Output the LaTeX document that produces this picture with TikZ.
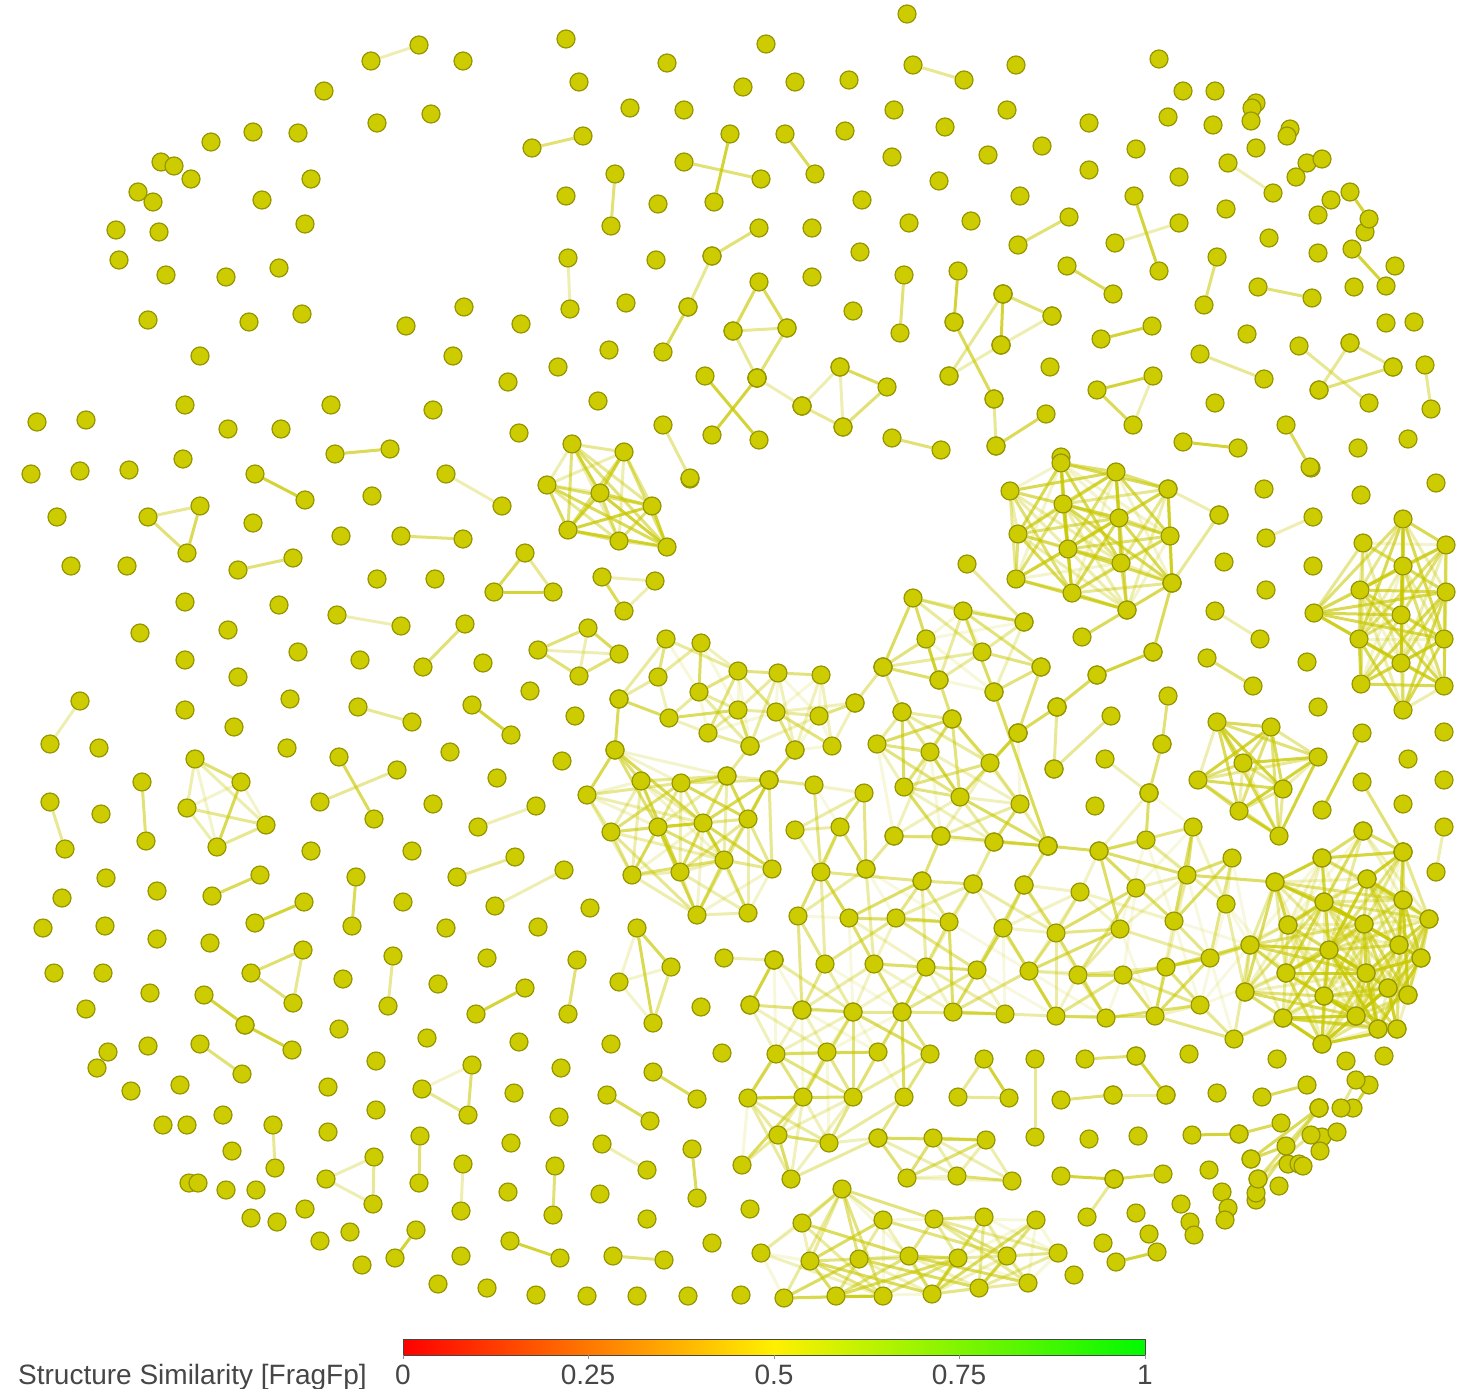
\documentclass[tikz,border=0pt]{standalone}
\usepackage{fontspec}
\setmainfont{Liberation Sans}
\pgfdeclarelayer{edges}
\pgfsetlayers{edges,main}
\definecolor{nodefill}{RGB}{204,204,0}
\definecolor{nodeline}{RGB}{150,150,0}
\definecolor{edgecol}{RGB}{200,200,0}
\definecolor{txt}{RGB}{70,70,70}
\definecolor{barred}{RGB}{255,0,0}
\definecolor{baryellow}{RGB}{255,240,0}
\definecolor{bargreen}{RGB}{0,250,0}
\tikzset{
  dot/.style={circle, fill=nodefill, draw=nodeline, line width=1.2pt, minimum size=18pt, inner sep=0pt},
  edge/.style={draw=edgecol, line width=3pt},
  lab/.style={text=txt, inner sep=0pt, font=\fontsize{28}{30}\selectfont}
}
% group: #1 distance threshold, #2 density (0-10), #3 base opacity, #4 list of x/y
\newcommand\grp[4]{%
  \foreach \ax/\ay in {#4}{\node[dot] (p\ax-\ay) at (\ax,\ay) {};}
  \begin{pgfonlayer}{edges}
  \foreach \ax/\ay [count=\ii] in {#4}{
    \foreach \bx/\by [count=\jj] in {#4}{
      \ifnum\jj>\ii\relax
        \ifnum\numexpr(\ax-\bx)*(\ax-\bx)+(\ay-\by)*(\ay-\by)\relax<\numexpr#1*#1\relax
          \pgfmathtruncatemacro\hs{mod(\ax+3*\ay+2*\bx+\by,10)}
          \ifnum\hs<#2\relax
            \pgfmathtruncatemacro\hh{mod(\ax+\by+2*\bx+\ay,5)}
            \pgfmathsetmacro\op{#3+0.12*\hh}
            \draw[edge,opacity=\op] (p\ax-\ay) -- (p\bx-\by);
          \fi
        \fi
      \fi
    }
  }
  \end{pgfonlayer}
}
\begin{document}
\begin{tikzpicture}[x=1pt,y=-1pt]
\useasboundingbox (0,0) rectangle (1480,1389);
% isolated nodes
\foreach \ax/\ay in {
324/91, 377/123, 211/142, 253/132, 298/133, 161/162, 174/166, 191/179, 311/179, 138/192, 153/202, 262/200, 305/224, 116/230, 159/232, 119/260, 166/275, 226/277, 279/268, 148/320, 249/322, 302/314, 200/356, 37/422, 86/420, 185/405, 228/429, 281/429, 331/405, 183/459, 129/470, 80/471, 31/474, 463/61,
566/39, 667/63, 579/82, 630/108, 684/110, 431/114, 566/196, 658/204, 656/260, 626/303, 464/307, 406/326, 521/324, 453/356, 609/350, 558/367, 508/382, 598/401, 433/410, 519/433, 766/44, 743/87, 795/82, 849/80, 894/110, 1007/110, 845/131, 945/127, 892/157, 988/155, 1042/146, 1089/123, 1089/170, 939/181, 862/200, 1020/196, 812/228, 909/223, 971/221, 860/252, 812/277, 853/311, 1050/367, 907/14, 1016/65, 1061/457,
1159/59, 1183/91, 1215/91, 1256/103, 1252/108, 1251/121, 1168/117, 1213/125, 1290/129, 1287/136, 1136/149, 1256/148, 1307/163, 1322/159, 1296/177, 1179/177, 1226/209, 1331/200, 1318/215, 1365/232, 1269/238, 1318/253, 1395/266, 1354/287, 1386/323, 1414/322, 1247/334, 1215/403, 1358/448, 1408/439,
372/496, 57/517, 253/523, 341/536, 71/566, 127/566, 185/602, 279/605, 140/633, 228/630, 185/660, 298/652, 360/660, 238/677, 185/710, 290/699, 234/727, 99/748, 287/748, 101/814, 311/851, 106/878, 157/891, 62/898, 43/928, 105/926, 377/579,
690/479, 435/579, 483/663, 530/691, 575/716, 450/752, 562/761, 497/778, 433/804, 412/851, 403/902, 590/908, 446/928, 538/927,
1311/468, 1264/489, 1361/495, 1436/483, 1224/562, 1313/566, 1266/590, 1307/662, 1318/707, 1408/759, 1444/732, 1403/804, 1444/780, 1095/806,
54/973, 103/973, 150/993, 343/979, 86/1009, 339/1029, 108/1052, 97/1068, 148/1046, 131/1091, 180/1085, 328/1087, 376/1061, 163/1125, 187/1125, 223/1115, 328/1132, 232/1151, 376/1110, 189/1183, 198/1183, 226/1190, 256/1190, 305/1209, 251/1218, 277/1222, 350/1232, 320/1241, 362/1265, 157/939, 210/943,
487/958, 438/984, 701/1007, 427/1038, 519/1042, 611/1044, 722/1053, 561/1068, 514/1093, 559/1117, 511/1143, 508/1192, 600/1194, 647/1219, 712/1243, 461/1256, 438/1284, 487/1288, 536/1295, 587/1296, 637/1296, 688/1296, 741/1295,
750/1209, 1089/1139, 1138/1136, 1217/1093, 1189/1054, 1277/1059, 1346/1061, 1384/1056, 1103/1243, 1074/1275,
1322/1137, 1337/1132, 1320/1151, 1288/1164, 1299/1164, 1303/1166, 1279/1186, 1256/1200, 1209/1170, 1222/1192, 1228/1208, 1225/1220, 1181/1204, 1190/1222, 1194/1235, 1149/1234, 1136/1213}
{\node[dot] (p\ax-\ay) at (\ax,\ay) {};}
% single links
\foreach \ax/\ay/\bx/\by in {
371/61/419/45, 335/454/390/449, 532/148/583/136, 730/134/714/202, 684/162/761/179, 785/134/815/174, 615/174/611/226, 568/258/570/309, 759/228/712/256, 712/256/688/307, 688/307/663/352, 663/425/690/478, 705/376/759/440, 712/435/757/378, 913/65/964/80, 1069/217/1018/245, 904/275/900/333, 958/271/954/322, 954/322/994/399, 994/399/996/446, 996/446/1046/414, 1067/266/1113/294, 892/438/941/450, 733/331/757/378, 787/328/757/378, 757/378/802/406, 802/406/840/367, 802/406/843/427, 1003/294/1052/316, 1003/294/1001/345, 1003/294/949/376, 1052/316/1001/345, 1001/345/949/376,
1228/163/1273/193, 1134/196/1159/271, 1179/223/1115/243, 1350/192/1369/219, 1217/257/1204/305, 1352/249/1386/286, 1258/287/1312/298, 1152/326/1101/339, 1200/354/1264/379, 1299/346/1369/403, 1350/343/1393/367, 1350/343/1319/390, 1319/390/1393/367, 1425/365/1431/409, 1286/425/1310/467, 1183/442/1238/448,
255/474/305/500, 238/570/293/558, 337/615/401/626, 80/701/50/744, 358/707/412/722, 339/757/374/819, 320/802/397/770, 142/782/146/841, 50/802/65/849, 212/896/260/875, 356/877/352/926, 304/902/255/923,
446/474/502/506, 401/536/463/539, 465/624/423/667, 472/705/511/735, 536/806/478/827, 457/877/515/857, 564/870/495/906,
1313/517/1266/538, 1215/611/1260/639, 1207/658/1253/686, 1168/696/1162/744, 1162/744/1149/793, 1362/733/1322/810, 1362/782/1403/852, 1444/827/1436/872, 1082/637/1127/610, 1168/489/1219/515, 1219/515/1172/583, 1172/583/1153/652, 1153/652/1097/675, 1097/675/1057/707, 1057/707/1018/733, 1057/707/1054/769, 1054/769/1111/716, 1105/759/1149/793, 967/564/1024/622,
204/995/245/1025, 245/1025/292/1050, 200/1044/242/1074, 273/1125/275/1168,
393/956/388/1006, 577/960/568/1014, 525/988/476/1014, 653/1072/697/1099, 607/1095/650/1121, 420/1136/419/1183, 602/1144/647/1170, 692/1149/697/1198, 463/1164/461/1211, 555/1166/553/1215, 416/1230/395/1258, 510/1241/560/1258, 613/1256/664/1260, 724/958/774/960, 774/960/750/1005,
1262/1097/1307/1085, 1061/1100/1113/1095, 1113/1095/1166/1095, 1136/1056/1166/1095, 1085/1059/1136/1056, 1061/1176/1114/1179, 1114/1179/1163/1174, 1087/1217/1114/1179, 1192/1135/1239/1134, 1239/1134/1281/1123, 1116/1262/1157/1252, 1035/1059/1035/1137,
1319/1108/1251/1159, 1319/1108/1258/1179, 1319/1108/1256/1193, 1286/1146/1251/1159, 1353/1108/1369/1085, 1341/1108/1356/1080, 1311/1135/1258/1179,
994/692/1048/846, 1041/667/1018/733, 883/667/902/712, 939/680/952/719, 750/746/727/776, 795/750/769/780, 619/699/615/750, 855/703/883/667,
894/836/866/869, 941/836/922/881, 994/842/973/884, 1048/846/1024/885, 1048/846/1099/851}
{
  \node[dot] (p\ax-\ay) at (\ax,\ay) {};
  \node[dot] (p\bx-\by) at (\bx,\by) {};
  \pgfmathtruncatemacro\hh{mod(\ax+\by+2*\bx+\ay,5)}
  \pgfmathsetmacro\op{0.3+0.12*\hh}
  \begin{pgfonlayer}{edges}\draw[edge,opacity=\op] (p\ax-\ay) -- (p\bx-\by);\end{pgfonlayer}
}
% small cliques
\grp{3000}{10}{0.3}{759/282, 733/331, 787/328}
\grp{3000}{10}{0.3}{840/367, 887/387, 843/427}
\grp{3000}{10}{0.3}{1097/390, 1153/376, 1133/425}
\grp{3000}{10}{0.3}{148/517, 200/506, 187/553}
\grp{3000}{10}{0.3}{525/553, 494/592, 553/592}
\grp{3000}{10}{0.3}{602/577, 655/581, 624/611}
\grp{3000}{10}{0.2}{303/950, 251/973, 293/1003}
\grp{3000}{10}{0.3}{326/1179, 374/1157, 373/1204}
\grp{3000}{10}{0.2}{472/1065, 422/1089, 468/1115}
\grp{3000}{10}{0.3}{984/1059, 958/1097, 1009/1098}
\grp{3000}{10}{0.3}{588/628, 538/650, 619/654, 579/676}
\grp{3000}{10}{0.2}{637/928, 619/982, 671/967, 653/1023}
\grp{3000}{10}{0.2}{195/759, 241/782, 187/808, 266/825, 217/847}
% clusters
\grp{200}{10}{0.3}{572/444, 624/452, 547/485, 600/493, 652/506, 568/530, 619/541, 667/547}
\grp{140}{10}{0.2}{1061/463, 1116/472, 1010/491, 1063/504, 1168/489, 1018/534, 1119/518, 1068/549, 1170/536, 1016/579, 1121/563, 1072/593, 1172/583, 1127/610}
\grp{150}{9}{0.2}{1403/519, 1446/545, 1363/543, 1403/566, 1360/590, 1446/592, 1314/613, 1401/615, 1359/639, 1444/639, 1401/663, 1361/684, 1444/686, 1403/710}
\grp{150}{10}{0.3}{1217/722, 1271/727, 1318/757, 1243/763, 1198/780, 1283/789, 1239/811, 1279/836}
\grp{120}{9}{0.2}{615/750, 587/795, 641/781, 611/832, 681/783, 727/776, 658/827, 703/823, 724/860, 680/872, 632/875, 697/915, 769/780, 748/819, 772/869, 748/913}
\grp{80}{8}{0.15}{666/639, 701/643, 658/677, 699/692, 619/699, 738/671, 738/710, 669/718, 708/733, 778/673, 821/675, 776/712, 819/716, 750/746, 795/750, 832/746, 855/703}
\grp{115}{8}{0.15}{913/598, 963/611, 926/639, 1024/622, 982/652, 883/667, 939/680, 1041/667, 994/692}
\grp{110}{8}{0.15}{902/712, 952/719, 1018/733, 877/744, 930/752, 990/763, 904/787, 960/797, 1020/804, 894/836, 941/836, 994/842, 1048/846}
\grp{105}{6}{0.12}{769/780, 814/785, 864/793, 795/830, 840/827, 821/872, 866/869, 922/881, 973/884, 1024/885, 1080/892, 1099/851, 798/916, 849/918, 896/918, 949/922, 1003/928, 1056/933, 825/964, 874/964, 926/967, 977/970, 1029/971, 1078/975, 802/1010, 853/1012, 902/1012, 953/1012, 1005/1014, 1056/1016, 1106/1018, 1149/793, 1193/827, 1146/840, 1232/858, 1187/875, 1136/888, 1275/882, 1226/904, 1174/921, 1120/929, 1288/925, 1250/945, 1210/958, 1166/967, 1123/975, 1245/992, 1200/1005, 1155/1016, 1234/1039, 1322/858, 1363/831, 1367/879, 1324/902, 1403/900, 1364/924, 1429/919, 1403/852, 1329/950, 1399/945, 1286/973, 1366/973, 1421/958, 1324/996, 1388/988, 1408/995, 1283/1018, 1356/1016, 1378/1029, 1397/1029, 1322/1044}
\grp{130}{8}{0.15}{1275/882, 1288/925, 1286/973, 1283/1018, 1322/858, 1363/831, 1367/879, 1324/902, 1403/900, 1364/924, 1429/919, 1403/852, 1329/950, 1399/945, 1366/973, 1421/958, 1324/996, 1388/988, 1408/995, 1356/1016, 1378/1029, 1397/1029, 1322/1044, 1250/945, 1245/992}
\grp{115}{7}{0.15}{774/960, 750/1005, 802/1010, 853/1012, 902/1012, 776/1054, 827/1052, 878/1052, 930/1054, 748/1098, 803/1097, 853/1097, 904/1097, 778/1135, 829/1143, 878/1138, 742/1165, 791/1179}
\grp{130}{10}{0.2}{878/1138, 933/1138, 986/1140, 907/1178, 957/1176, 1012/1181}
\grp{130}{7}{0.15}{842/1189, 802/1223, 883/1220, 934/1219, 984/1217, 1036/1220, 761/1253, 810/1261, 859/1259, 909/1256, 958/1258, 1007/1256, 1058/1253, 784/1298, 836/1296, 883/1296, 932/1294, 979/1288, 1028/1283}
% legend
\shade[left color=barred, right color=bargreen, middle color=baryellow] (403,1339) rectangle (1145,1355);
\draw[draw=txt, line width=1pt] (403,1339) rectangle (1145,1355);
\foreach \tx in {403,588,774,959,1145}{\draw[draw=txt!60, line width=0.8pt] (\tx,1355) -- (\tx,1359);}
\node[lab, anchor=base west] (ttl) at (18,1384) {Structure Similarity [FragFp]};
\node[lab, anchor=base] (t0) at (403,1384) {0};
\node[lab, anchor=base] (t1) at (588,1384) {0.25};
\node[lab, anchor=base] (t2) at (774,1384) {0.5};
\node[lab, anchor=base] (t3) at (959,1384) {0.75};
\node[lab, anchor=base] (t4) at (1145,1384) {1};
\end{tikzpicture}
\end{document}
